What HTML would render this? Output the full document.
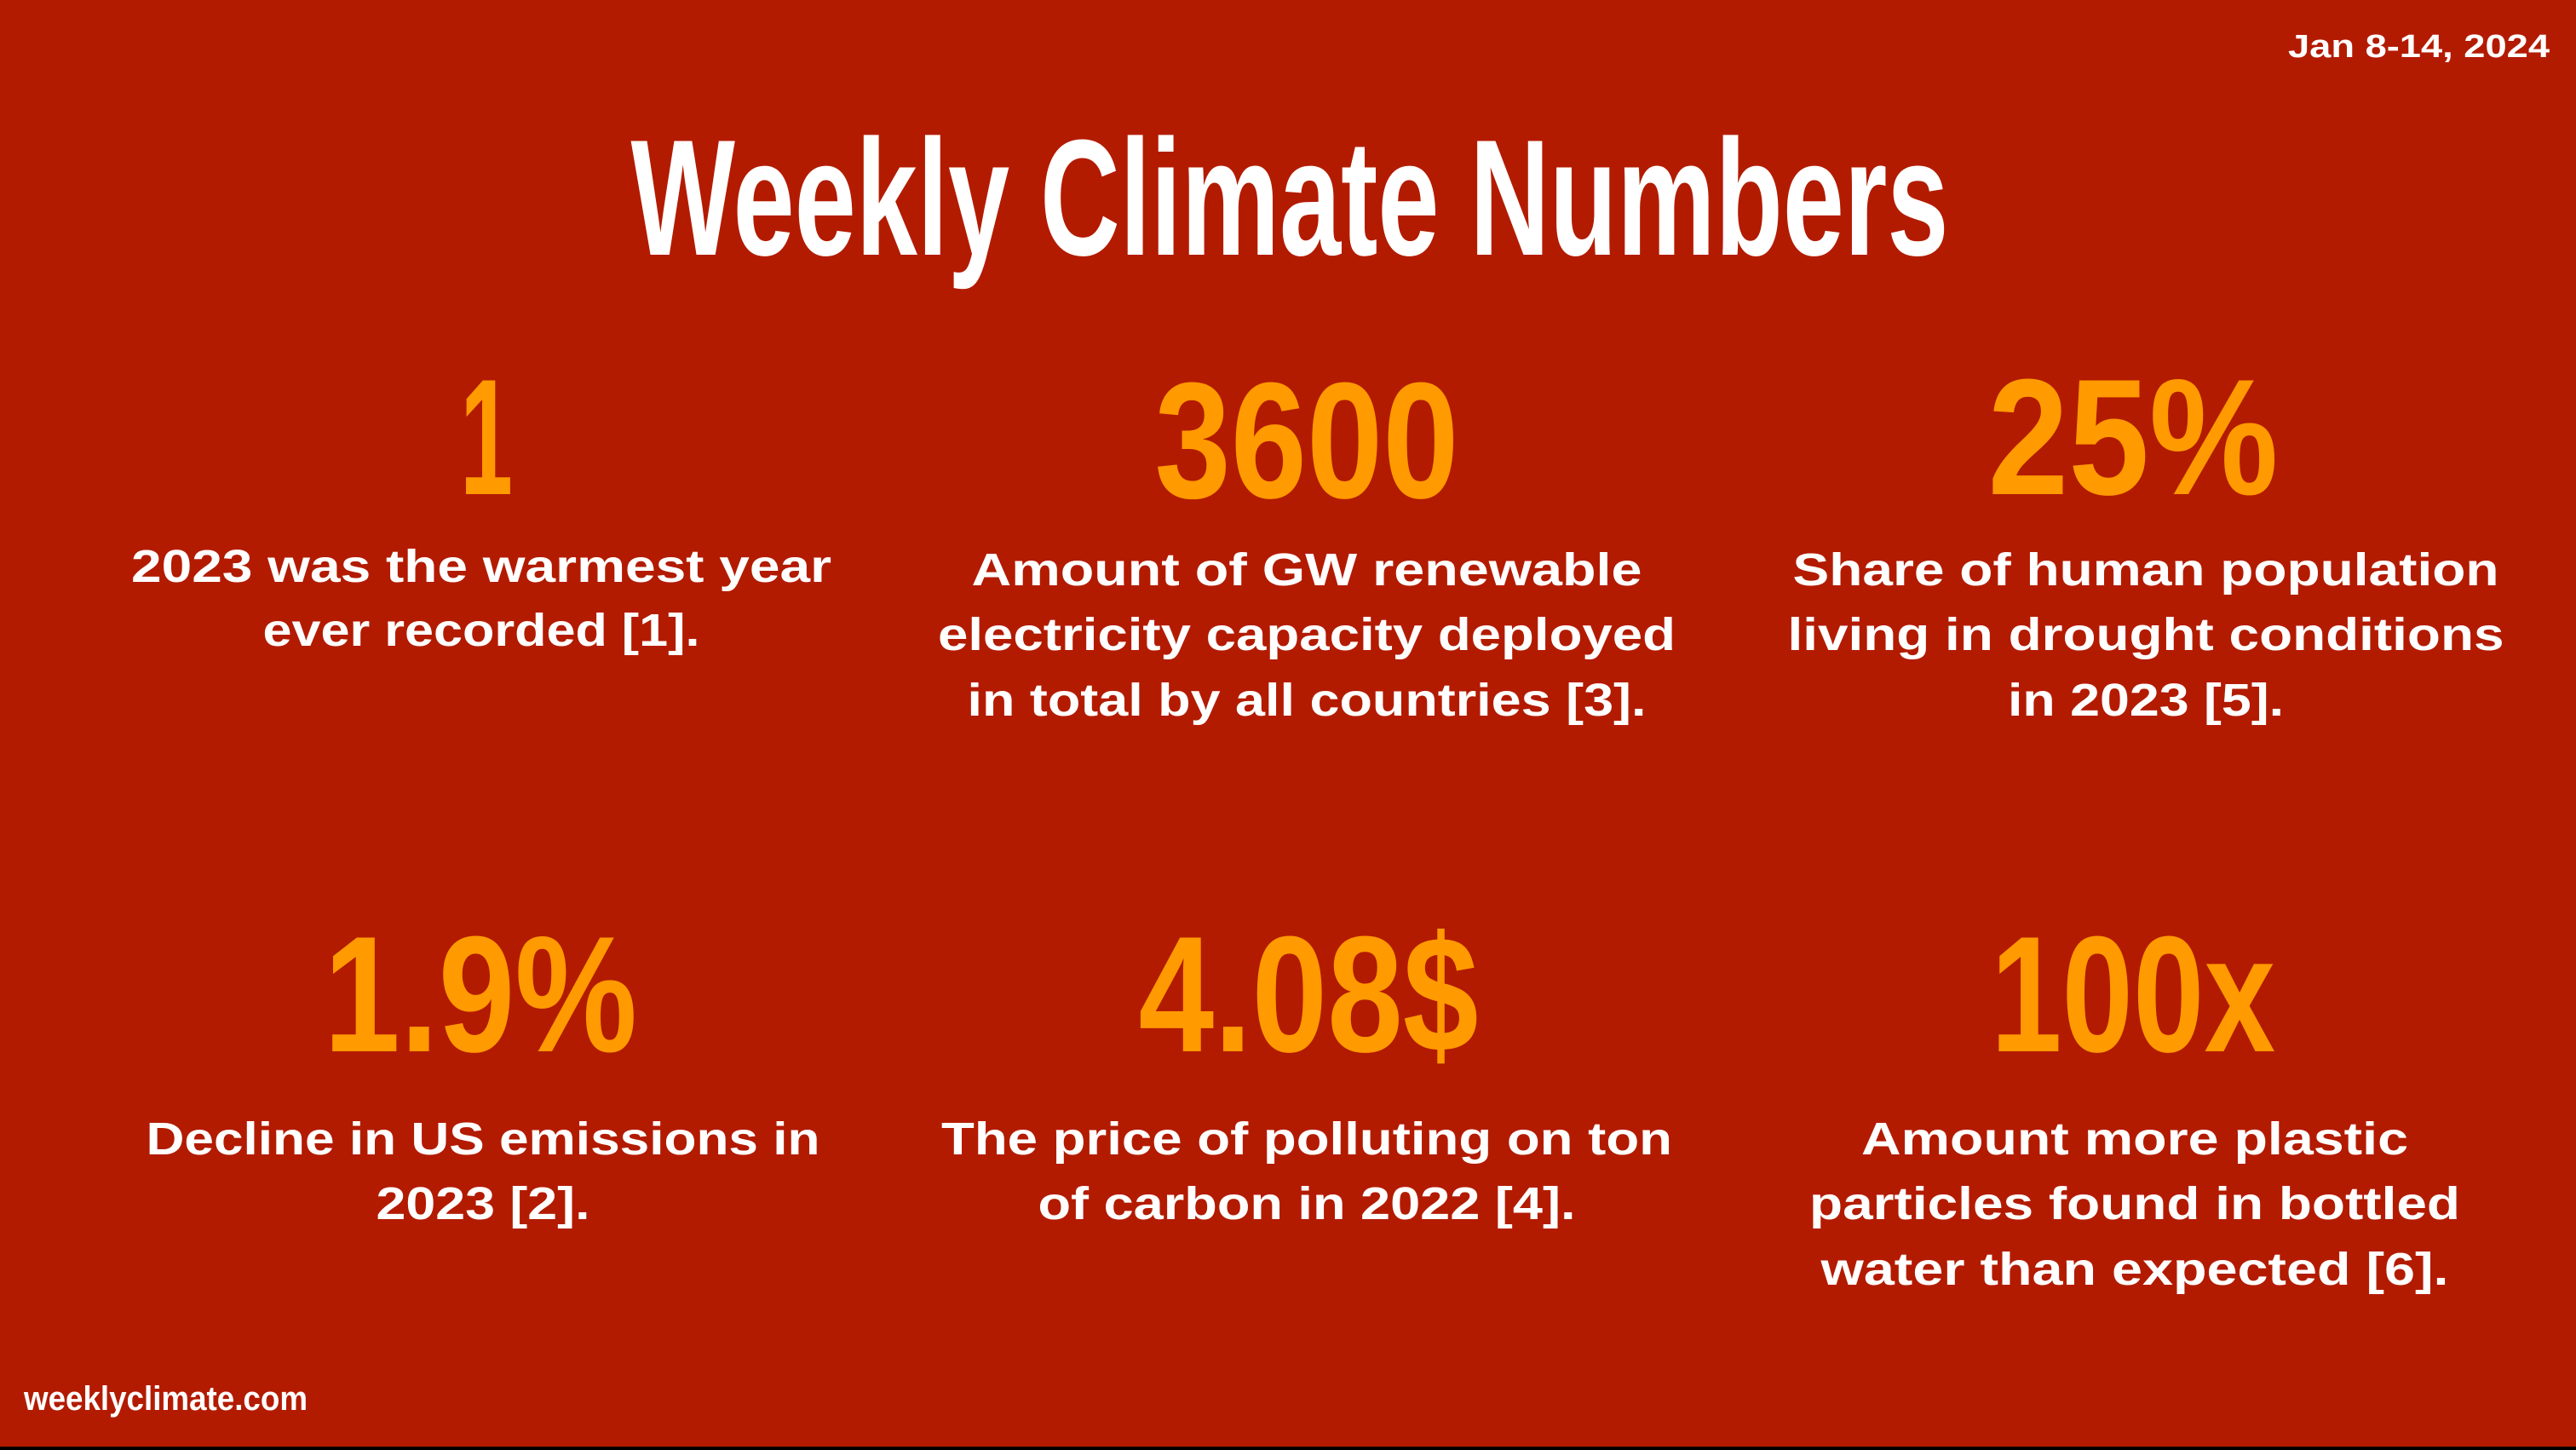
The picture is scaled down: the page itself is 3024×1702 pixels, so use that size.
<!DOCTYPE html>
<html><head><meta charset="utf-8"><style>
html,body{margin:0;padding:0;width:3024px;height:1702px;overflow:hidden;background:#b31b00}
svg{display:block}
text{font-family:"Liberation Sans",sans-serif;font-weight:bold}
</style></head><body>
<svg width="3024" height="1702" viewBox="0 0 3024 1702">
<rect x="0" y="0" width="3024" height="1698" fill="#b31b00"/>
<rect x="0" y="1698" width="3024" height="4" fill="#000"/>
<text x="2993" y="67" font-size="38" fill="#fff" text-anchor="end" textLength="307" lengthAdjust="spacingAndGlyphs">Jan 8-14, 2024</text>
<text x="1514" y="299" font-size="194" font-weight="normal" fill="#fff" text-anchor="middle" textLength="1547" lengthAdjust="spacingAndGlyphs">Weekly Climate Numbers</text>

<g fill="#ff9a00" font-size="194" text-anchor="middle">
<text x="571" y="580" textLength="62" lengthAdjust="spacingAndGlyphs">1</text>
<text x="1534" y="584" textLength="357" lengthAdjust="spacingAndGlyphs">3600</text>
<text x="2504" y="580" textLength="341" lengthAdjust="spacingAndGlyphs">25%</text>
<text x="564" y="1234" textLength="368" lengthAdjust="spacingAndGlyphs">1.9%</text>
<text x="1536" y="1234" textLength="399" lengthAdjust="spacingAndGlyphs">4.08$</text>
<text x="2504" y="1234" textLength="334" lengthAdjust="spacingAndGlyphs">100x</text>
</g>

<g fill="#fff" font-size="54" text-anchor="middle">
<g>
<text x="565" y="683" textLength="822" lengthAdjust="spacingAndGlyphs">2023 was the warmest year</text>
<text x="565" y="758" textLength="513" lengthAdjust="spacingAndGlyphs">ever recorded [1].</text>
</g>
<g>
<text x="1534" y="687" textLength="787" lengthAdjust="spacingAndGlyphs">Amount of GW renewable</text>
<text x="1534" y="763" textLength="866" lengthAdjust="spacingAndGlyphs">electricity capacity deployed</text>
<text x="1534" y="840" textLength="797" lengthAdjust="spacingAndGlyphs">in total by all countries [3].</text>
</g>
<g>
<text x="2519" y="687" textLength="829" lengthAdjust="spacingAndGlyphs">Share of human population</text>
<text x="2519" y="763" textLength="841" lengthAdjust="spacingAndGlyphs">living in drought conditions</text>
<text x="2519" y="840" textLength="324" lengthAdjust="spacingAndGlyphs">in 2023 [5].</text>
</g>
<g>
<text x="567" y="1355" textLength="791" lengthAdjust="spacingAndGlyphs">Decline in US emissions in</text>
<text x="567" y="1431" textLength="251" lengthAdjust="spacingAndGlyphs">2023 [2].</text>
</g>
<g>
<text x="1534" y="1355" textLength="858" lengthAdjust="spacingAndGlyphs">The price of polluting on ton</text>
<text x="1534" y="1431" textLength="631" lengthAdjust="spacingAndGlyphs">of carbon in 2022 [4].</text>
</g>
<g>
<text x="2506" y="1355" textLength="642" lengthAdjust="spacingAndGlyphs">Amount more plastic</text>
<text x="2506" y="1431" textLength="764" lengthAdjust="spacingAndGlyphs">particles found in bottled</text>
<text x="2506" y="1508" textLength="737" lengthAdjust="spacingAndGlyphs">water than expected [6].</text>
</g>
</g>

<text x="28" y="1655" font-size="40" fill="#fff" textLength="333" lengthAdjust="spacingAndGlyphs">weeklyclimate.com</text>
</svg>
</body></html>
